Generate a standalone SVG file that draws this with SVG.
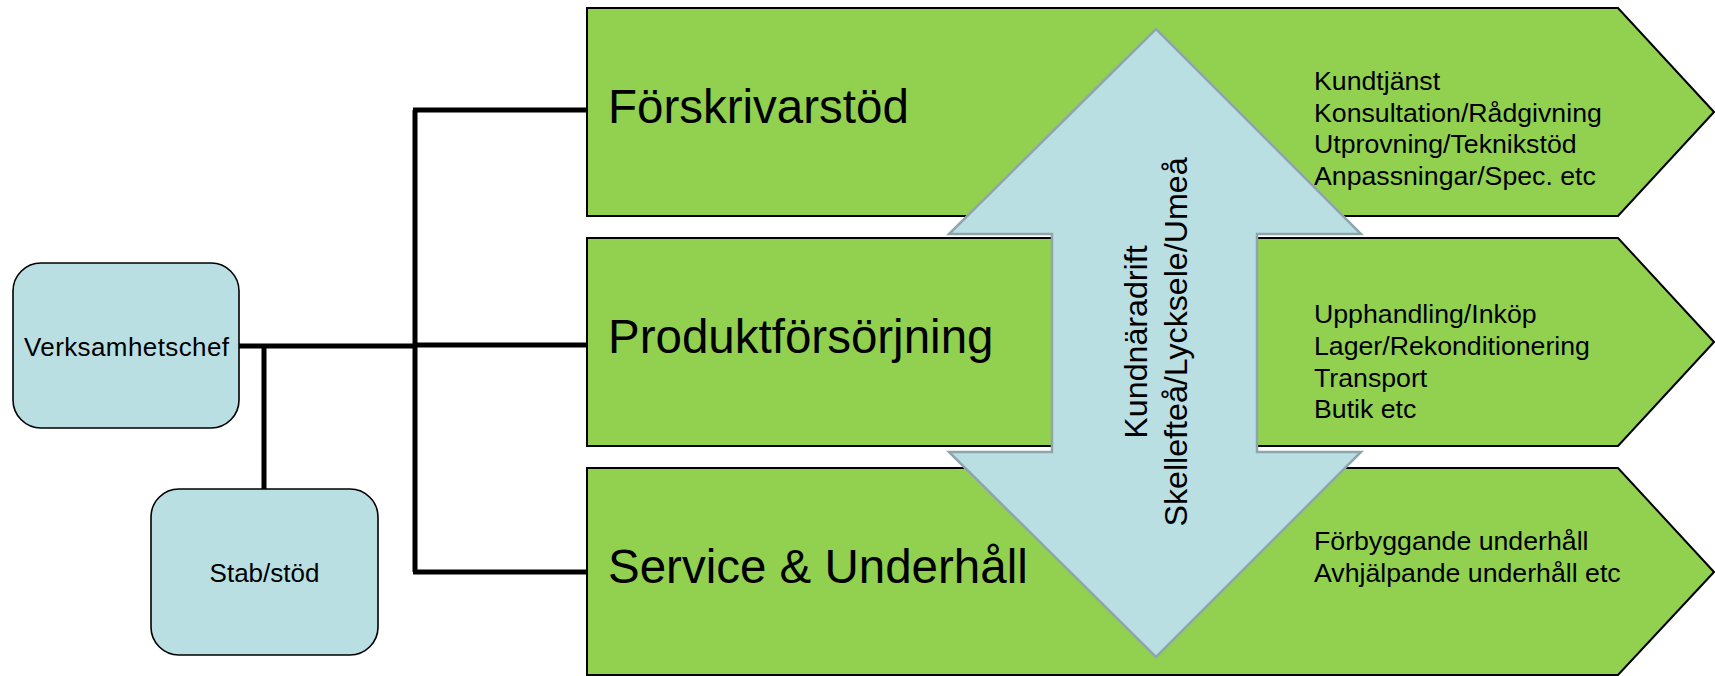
<svg xmlns="http://www.w3.org/2000/svg" width="1715" height="676" viewBox="0 0 1715 676">
<style>
.box{fill:#B9DFE3;stroke:#000;stroke-width:1.6}
.grn{fill:#92D050;stroke:#000;stroke-width:2}
.arr{fill:#BADFE3;stroke:#8FA5AC;stroke-width:2.5}
.con{fill:none;stroke:#000;stroke-width:5}
.t{font-family:"Liberation Sans",Arial,sans-serif;fill:#000}
.s{font-size:26px}
.l{font-size:26.7px}
.b{font-size:47.5px}
.r{font-size:32.2px}
</style>
<rect width="1715" height="676" fill="#fff"/>
<g id="connectors">
<path class="con" d="M239,346 H415 M264,346 V489 M415,110 V572 M413,110 H587 M415,345 H587 M413,572 H587"/>
</g>
<g id="verksamhetschef">
<rect class="box" x="13" y="263" width="226" height="165" rx="28"/>
<text class="t s" x="126.5" y="356" text-anchor="middle" textLength="205">Verksamhetschef</text>
</g>
<g id="stab">
<rect class="box" x="151" y="489" width="227" height="166" rx="28"/>
<text class="t s" x="264.5" y="582" text-anchor="middle">Stab/stöd</text>
</g>
<g id="forskrivarstod">
<path class="grn" d="M587,8 H1618 L1714,112 L1618,216 H587 Z"/>
<text class="t b" x="608" y="123">Förskrivarstöd</text>
</g>
<g id="produktforsorjning">
<path class="grn" d="M587,238 H1618 L1714,342 L1618,446 H587 Z"/>
<text class="t b" x="608" y="353">Produktförsörjning</text>
</g>
<g id="service">
<path class="grn" d="M587,468 H1618 L1714,572 L1618,675 H587 Z"/>
<text class="t b" x="608" y="583">Service &amp; Underhåll</text>
</g>
<g id="kundnaradrift">
<path class="arr" d="M1156,29 L1361,234 L1257,234 L1257,452 L1361,452 L1156,657 L949,452 L1052,452 L1052,234 L949,234 Z"/>
<text class="t r" transform="translate(1147,342) rotate(-90)" text-anchor="middle">Kundnäradrift</text>
<text class="t r" transform="translate(1187,342) rotate(-90)" text-anchor="middle">Skellefteå/Lycksele/Umeå</text>
</g>
<g id="list1">
<text class="t l" x="1314" y="90">Kundtjänst</text>
<text class="t l" x="1314" y="122">Konsultation/Rådgivning</text>
<text class="t l" x="1314" y="153">Utprovning/Teknikstöd</text>
<text class="t l" x="1314" y="185">Anpassningar/Spec. etc</text>
</g>
<g id="list2">
<text class="t l" x="1314" y="323">Upphandling/Inköp</text>
<text class="t l" x="1314" y="355">Lager/Rekonditionering</text>
<text class="t l" x="1314" y="387">Transport</text>
<text class="t l" x="1314" y="418">Butik etc</text>
</g>
<g id="list3">
<text class="t l" x="1314" y="550">Förbyggande underhåll</text>
<text class="t l" x="1314" y="582">Avhjälpande underhåll etc</text>
</g>
</svg>
